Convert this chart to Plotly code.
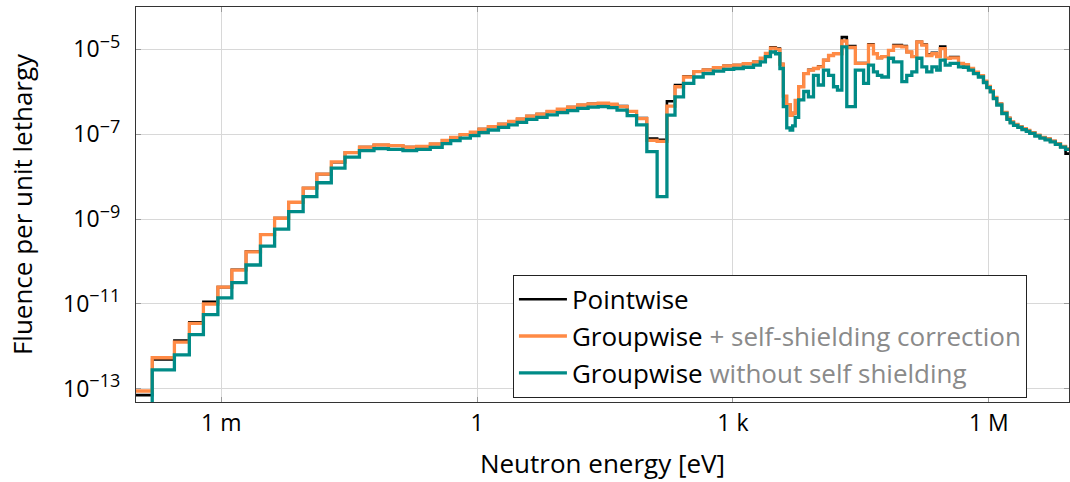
import plotly.graph_objects as go

# Group boundaries (eV)
energy_edges = [
    8.9e-5, 1.55e-4, 2.82e-4, 4.22e-4, 6.17e-4, 9.12e-4, 1.33e-3, 1.95e-3, 2.88e-3, 4.22e-3,
    6.17e-3, 9.12e-3, 1.32e-2, 1.95e-2, 2.82e-2, 4.17e-2, 6.17e-2, 9.12e-2, 0.135, 0.195,
    0.282, 0.389, 0.49, 0.631, 0.832, 1.05, 1.35, 1.78, 2.34, 2.95,
    3.8, 5.01, 6.61, 8.71, 11.5, 15.1, 20.0, 26.3, 34.7, 43.7,
    57.5, 74.1, 97.7, 129, 168, 209, 263, 347, 447, 589,
    776, 1020, 1320, 1740, 2090, 2400, 2750, 3160, 3550, 3890,
    4270, 4680, 5010, 5370, 5890, 6760, 7670, 8790, 10000, 11500,
    13200, 15100, 16800, 18900, 21600, 27200, 34000, 38800, 44400, 49400,
    55600, 66500, 76200, 95500, 109000, 125000, 143000, 164000, 187000, 215000,
    245000, 269000, 308000, 352000, 441000, 504000, 577000, 661000, 755000, 865000,
    946000, 1.04e6, 1.13e6, 1.24e6, 1.42e6, 1.63e6, 1.78e6, 1.95e6, 2.19e6, 2.45e6,
    2.75e6, 3.02e6, 3.47e6, 3.98e6, 4.57e6, 5.25e6, 6.03e6, 6.92e6, 7.94e6, 9.12e6,
]

pointwise = [
    7.1e-14, 4.9e-13, 1.38e-12, 3.7e-12, 1.12e-11, 2.5e-11, 6.4e-11, 1.72e-10, 4.3e-10, 1.06e-9,
    2.5e-9, 5.4e-9, 1.15e-8, 2.2e-8, 3.7e-8, 5.0e-8, 5.6e-8, 5.4e-8, 5.0e-8, 5.2e-8,
    5.9e-8, 7.2e-8, 8.5e-8, 9.8e-8, 1.12e-7, 1.32e-7, 1.51e-7, 1.74e-7, 2.0e-7, 2.29e-7,
    2.69e-7, 3.0e-7, 3.47e-7, 3.9e-7, 4.37e-7, 4.9e-7, 5.2e-7, 5.4e-7, 5.1e-7, 4.6e-7,
    3.5e-7, 2.4e-7, 7.9e-8, 7.4e-8, 6.0e-7, 1.45e-6, 2.34e-6, 3.0e-6, 3.3e-6, 3.7e-6,
    4.1e-6, 4.3e-6, 4.6e-6, 5.1e-6, 6.2e-6, 8.1e-6, 1.12e-5, 1.05e-5, 4.5e-6, 7.9e-7,
    5.0e-7, 2.8e-7, 3.16e-7, 6.3e-7, 1.32e-6, 2.69e-6, 3.3e-6, 3.6e-6, 4.0e-6, 5.6e-6,
    7.2e-6, 7.9e-6, 7.9e-6, 1.95e-5, 1.2e-5, 4.8e-6, 4.8e-6, 1.32e-5, 7.9e-6, 6.3e-6,
    6.8e-6, 9.5e-6, 1.26e-5, 1.2e-5, 8.7e-6, 6.8e-6, 1.51e-5, 1.3e-5, 7.6e-6, 8.3e-6,
    6.8e-6, 1.17e-5, 6.2e-6, 6.6e-6, 4.7e-6, 4.4e-6, 3.55e-6, 2.9e-6, 2.4e-6, 1.78e-6,
    1.35e-6, 1.07e-6, 7.4e-7, 5.2e-7, 3.3e-7, 2.4e-7, 1.95e-7, 1.7e-7, 1.51e-7, 1.35e-7,
    1.23e-7, 1.1e-7, 9.5e-8, 8.5e-8, 7.8e-8, 6.9e-8, 6.0e-8, 5.0e-8, 3.5e-8,
]

groupwise_ssc = [
    8.9e-14, 5.4e-13, 1.26e-12, 3.5e-12, 1.0e-11, 2.5e-11, 6.3e-11, 1.7e-10, 4.3e-10, 1.05e-9,
    2.5e-9, 5.4e-9, 1.15e-8, 2.24e-8, 3.7e-8, 5.0e-8, 5.6e-8, 5.4e-8, 5.0e-8, 5.2e-8,
    5.9e-8, 7.2e-8, 8.5e-8, 9.8e-8, 1.12e-7, 1.32e-7, 1.51e-7, 1.74e-7, 2.0e-7, 2.29e-7,
    2.69e-7, 3.0e-7, 3.47e-7, 3.9e-7, 4.37e-7, 4.9e-7, 5.2e-7, 5.4e-7, 5.1e-7, 4.47e-7,
    3.47e-7, 2.34e-7, 7.2e-8, 6.8e-8, 4.6e-7, 1.32e-6, 2.24e-6, 3.0e-6, 3.3e-6, 3.7e-6,
    4.1e-6, 4.27e-6, 4.6e-6, 5.1e-6, 6.2e-6, 8.1e-6, 1.07e-5, 1.0e-5, 4.5e-6, 7.9e-7,
    5.0e-7, 2.8e-7, 3.16e-7, 6.3e-7, 1.32e-6, 2.69e-6, 3.24e-6, 3.55e-6, 3.9e-6, 5.6e-6,
    7.2e-6, 7.9e-6, 7.9e-6, 1.58e-5, 1.12e-5, 4.7e-6, 4.7e-6, 1.26e-5, 7.9e-6, 6.3e-6,
    6.8e-6, 9.5e-6, 1.2e-5, 1.15e-5, 8.7e-6, 6.8e-6, 1.51e-5, 1.26e-5, 7.2e-6, 7.9e-6,
    6.8e-6, 1.05e-5, 6.2e-6, 6.3e-6, 4.7e-6, 4.4e-6, 3.55e-6, 2.9e-6, 2.4e-6, 1.78e-6,
    1.35e-6, 1.07e-6, 7.4e-7, 5.2e-7, 3.3e-7, 2.4e-7, 1.95e-7, 1.7e-7, 1.51e-7, 1.35e-7,
    1.23e-7, 1.1e-7, 9.5e-8, 8.5e-8, 7.8e-8, 6.9e-8, 6.0e-8, 5.2e-8, 4.5e-8,
]

groupwise_noss = [
    3.5e-14, 2.8e-13, 6.3e-13, 1.9e-12, 5.6e-12, 1.4e-11, 3.2e-11, 8.3e-11, 2.3e-10, 5.8e-10,
    1.5e-9, 3.4e-9, 7.2e-9, 1.6e-8, 2.9e-8, 4.1e-8, 4.6e-8, 4.4e-8, 4.1e-8, 4.4e-8,
    4.9e-8, 6.0e-8, 7.1e-8, 8.1e-8, 9.3e-8, 1.10e-7, 1.26e-7, 1.45e-7, 1.66e-7, 1.91e-7,
    2.24e-7, 2.51e-7, 2.88e-7, 3.24e-7, 3.63e-7, 4.07e-7, 4.37e-7, 4.47e-7, 4.27e-7, 3.72e-7,
    2.75e-7, 1.66e-7, 3.9e-8, 3.4e-9, 2.82e-7, 7.6e-7, 1.58e-6, 2.24e-6, 2.69e-6, 3.09e-6,
    3.39e-6, 3.55e-6, 3.8e-6, 4.27e-6, 5.1e-6, 6.8e-6, 8.7e-6, 7.9e-6, 3.55e-6, 4.5e-7,
    1.41e-7, 1.26e-7, 1.58e-7, 2.5e-7, 6.5e-7, 1.02e-6, 7.6e-7, 2.45e-6, 1.45e-6, 3.24e-6,
    2.45e-6, 1.32e-6, 1.1e-6, 1.15e-5, 4.5e-7, 3.24e-6, 1.58e-6, 4.27e-6, 2.95e-6, 2.45e-6,
    2.24e-6, 6.2e-6, 5.1e-6, 1.74e-6, 2.45e-6, 2.95e-6, 6.2e-6, 3.9e-6, 2.95e-6, 3.9e-6,
    3.24e-6, 5.6e-6, 4.27e-6, 4.7e-6, 3.9e-6, 3.8e-6, 3.24e-6, 2.69e-6, 2.24e-6, 1.66e-6,
    1.26e-6, 1.0e-6, 6.9e-7, 4.9e-7, 3.09e-7, 2.24e-7, 1.86e-7, 1.62e-7, 1.45e-7, 1.29e-7,
    1.17e-7, 1.05e-7, 9.1e-8, 8.1e-8, 7.4e-8, 6.6e-8, 5.8e-8, 5.0e-8, 4.4e-8,
]

x_tick_vals = [1e-3, 1, 1e3, 1e6]
x_tick_text = ["1 m", "1", "1 k", "1 M"]
y_tick_vals = [1e-13, 1e-11, 1e-9, 1e-7, 1e-5]
y_tick_text = [
    "10<sup><span style='font-size:18px'>−13</span></sup>",
    "10<sup><span style='font-size:18px'>−11</span></sup>",
    "10<sup><span style='font-size:18px'>−9</span></sup>",
    "10<sup><span style='font-size:18px'>−7</span></sup>",
    "10<sup><span style='font-size:18px'>−5</span></sup>",
]

FONT = "Open Sans"
series = [
    ("Pointwise", pointwise, "#000000", 2.6),
    ("Groupwise <span style='color:#8a8a8a'>+ self-shielding correction</span>", groupwise_ssc, "#FF8A45", 3.3),
    ("Groupwise <span style='color:#8a8a8a'>without self shielding</span>", groupwise_noss, "#008B87", 3.3),
]

fig = go.Figure()
for name, vals, color, w in series:
    fig.add_trace(go.Scatter(
        x=energy_edges, y=list(vals) + [vals[-1]], mode="lines", name=name,
        line=dict(color=color, width=w, shape="hv"),
    ))

axis_common = dict(
    type="log", showline=True, linecolor="#333333", linewidth=1.3, mirror="ticks",
    ticks="inside", ticklen=5, tickcolor="#9a9a9a", showgrid=True,
    gridcolor="#d8d8d8", gridwidth=1, zeroline=False, automargin=False,
    tickfont=dict(family=FONT, size=23, color="#000"),
)

fig.update_layout(
    width=1070, height=482,
    margin=dict(l=136, r=1, t=7, b=80),
    paper_bgcolor="white", plot_bgcolor="white",
    font=dict(family=FONT, size=23, color="#000"),
    xaxis=dict(axis_common, range=[-4.0, 6.94], tickvals=x_tick_vals, ticktext=x_tick_text,
               title=dict(text="Neutron energy [eV]", font=dict(size=26), standoff=18)),
    yaxis=dict(axis_common, range=[-13.31, -4.0], tickvals=y_tick_vals, ticktext=y_tick_text,
               title=dict(text="Fluence per unit lethargy", font=dict(size=26), standoff=22),
               ticklabelstandoff=10),
    legend=dict(x=0.404, y=0.322, xanchor="left", yanchor="top",
                bordercolor="#222", borderwidth=1, bgcolor="white",
                font=dict(family=FONT, size=26), itemwidth=48, tracegroupgap=0),
    showlegend=True,
)

fig.write_html("out.html", config={"displayModeBar": False},
               post_script="document.body.style.margin='0';")
